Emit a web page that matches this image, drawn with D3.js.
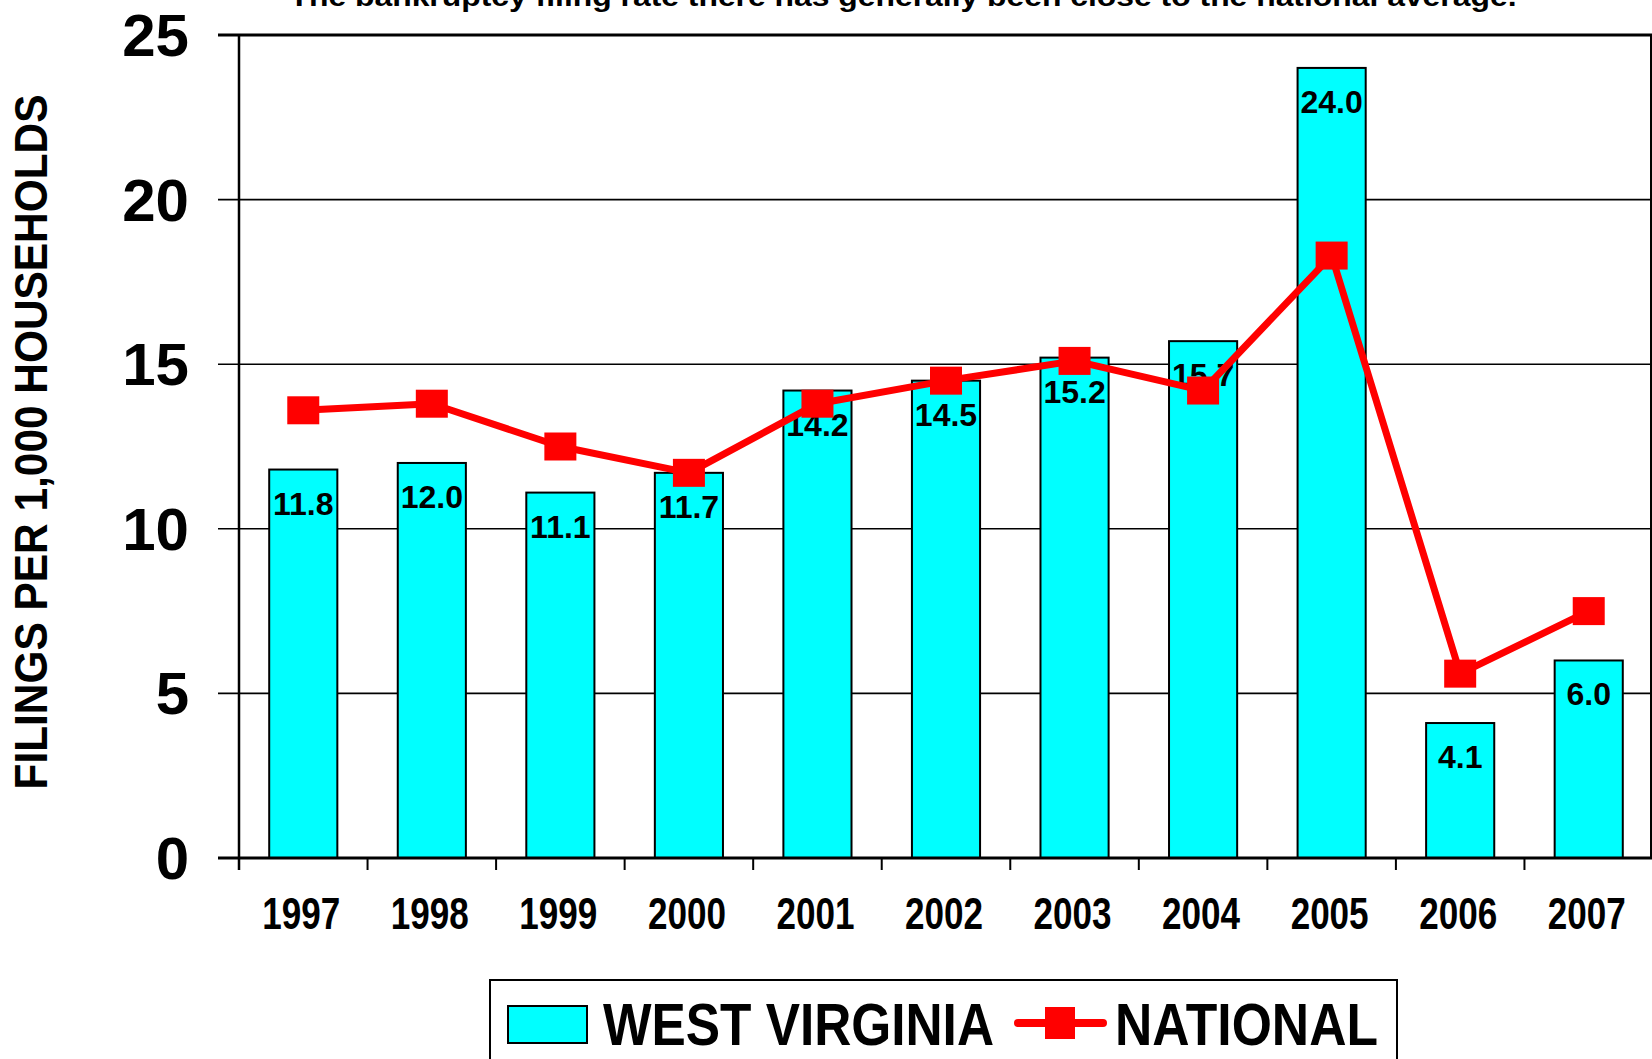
<!DOCTYPE html>
<html>
<head>
<meta charset="utf-8">
<script src="https://cdn.jsdelivr.net/npm/d3@7"></script>
<style>
  body { margin: 0; background: #fff; }
  svg { display: block; }
  text { font-family: "Liberation Sans", Arial, sans-serif; font-weight: bold; fill: #000; }
  .narrow { font-family: "Liberation Sans Narrow", "Arial Narrow", "Liberation Sans", sans-serif; }
</style>
</head>
<body>
<svg width="1652" height="1059"></svg>
<script>
var years = ["1997", "1998", "1999", "2000", "2001", "2002", "2003", "2004", "2005", "2006", "2007"];
var westVirginia = [11.8, 12.0, 11.1, 11.7, 14.2, 14.5, 15.2, 15.7, 24.0, 4.1, 6.0];
var national = [13.6, 13.8, 12.5, 11.7, 13.8, 14.5, 15.1, 14.2, 18.3, 5.6, 7.5];
var yTicks = [0, 5, 10, 15, 20, 25];
var seriesNames = ["WEST VIRGINIA", "NATIONAL"];
var titleText = "The bankruptcy filing rate there has generally been close to the national average.";
var yTitle = "FILINGS PER 1,000 HOUSEHOLDS";

var svg = d3.select("svg");

// plot area (note: "top" is taken by window.top)
var plotLeft = 239, plotRight = 1653, plotTop = 35, plotBottom = 858;

var y = d3.scaleLinear().domain([0, 25]).range([plotBottom, plotTop]);
var xCat = d3.scaleBand().domain(years).range([plotLeft, plotRight]).padding(0);
var xBar = d3
  .scaleBand()
  .domain(years)
  .range([plotLeft, plotRight])
  .paddingInner(0.47)
  .paddingOuter(0.235);

var data = years.map(function (yr, i) {
  return { year: yr, wv: westVirginia[i], nat: national[i] };
});

function mid(yr) {
  return xCat(yr) + xCat.bandwidth() / 2;
}

// title, cut off at the top edge
svg
  .append("text")
  .attr("x", 903)
  .attr("y", 6)
  .attr("text-anchor", "middle")
  .attr("textLength", 1227)
  .attr("lengthAdjust", "spacingAndGlyphs")
  .style("font-size", "28px")
  .text(titleText);

// gridlines + y ticks
svg
  .append("g")
  .selectAll("line")
  .data(yTicks)
  .enter()
  .append("line")
  .attr("x1", 218)
  .attr("x2", 1652)
  .attr("y1", function (d) { return y(d); })
  .attr("y2", function (d) { return y(d); })
  .attr("stroke", "#000")
  .attr("stroke-width", function (d) { return d === 25 ? 3 : 1.6; });

svg
  .append("g")
  .selectAll("text")
  .data(yTicks)
  .enter()
  .append("text")
  .attr("x", 189)
  .attr("y", function (d) { return y(d) + 21; })
  .attr("text-anchor", "end")
  .style("font-size", "60px")
  .text(function (d) { return d; });

// y axis title
svg
  .append("text")
  .attr("class", "narrow")
  .attr("transform", "translate(47,442) rotate(-90)")
  .attr("text-anchor", "middle")
  .attr("textLength", 695)
  .attr("lengthAdjust", "spacingAndGlyphs")
  .style("font-size", "46px")
  .text(yTitle);

// bars
svg
  .append("g")
  .selectAll("rect")
  .data(data)
  .enter()
  .append("rect")
  .attr("x", function (d) { return xBar(d.year); })
  .attr("y", function (d) { return y(d.wv); })
  .attr("width", xBar.bandwidth())
  .attr("height", function (d) { return y(0) - y(d.wv); })
  .attr("fill", "#00ffff")
  .attr("stroke", "#000")
  .attr("stroke-width", 2);

// bar labels
svg
  .append("g")
  .selectAll("text")
  .data(data)
  .enter()
  .append("text")
  .attr("x", function (d) { return mid(d.year); })
  .attr("y", function (d) { return y(d.wv) + 45; })
  .attr("text-anchor", "middle")
  .style("font-size", "32px")
  .text(function (d) { return d.wv.toFixed(1); });

// plot frame: left axis, right border, baseline
svg.append("line")
  .attr("x1", plotLeft).attr("x2", plotLeft)
  .attr("y1", y(25)).attr("y2", plotBottom + 12)
  .attr("stroke", "#000").attr("stroke-width", 2.5);
svg.append("line")
  .attr("x1", 1651).attr("x2", 1651)
  .attr("y1", y(25)).attr("y2", plotBottom)
  .attr("stroke", "#000").attr("stroke-width", 2);
svg.append("line")
  .attr("x1", 218).attr("x2", 1652)
  .attr("y1", plotBottom).attr("y2", plotBottom)
  .attr("stroke", "#000").attr("stroke-width", 3);

// x ticks at band edges
svg
  .append("g")
  .selectAll("line")
  .data(years.slice(1))
  .enter()
  .append("line")
  .attr("x1", function (d) { return xCat(d); })
  .attr("x2", function (d) { return xCat(d); })
  .attr("y1", plotBottom)
  .attr("y2", plotBottom + 12)
  .attr("stroke", "#000")
  .attr("stroke-width", 2);

// x labels
svg
  .append("g")
  .selectAll("text")
  .data(years)
  .enter()
  .append("text")
  .attr("class", "narrow")
  .attr("x", function (d) { return mid(d) - 2; })
  .attr("y", 929)
  .attr("text-anchor", "middle")
  .attr("textLength", 78)
  .attr("lengthAdjust", "spacingAndGlyphs")
  .style("font-size", "44px")
  .text(function (d) { return d; });

// national line
var line = d3
  .line()
  .x(function (d) { return mid(d.year); })
  .y(function (d) { return y(d.nat); });

svg
  .append("path")
  .datum(data)
  .attr("d", line)
  .attr("fill", "none")
  .attr("stroke", "#ff0000")
  .attr("stroke-width", 7)
  .attr("stroke-linejoin", "round");

svg
  .append("g")
  .selectAll("rect")
  .data(data)
  .enter()
  .append("rect")
  .attr("x", function (d) { return mid(d.year) - 16; })
  .attr("y", function (d) { return y(d.nat) - 14; })
  .attr("width", 32)
  .attr("height", 28)
  .attr("fill", "#ff0000");

// legend
var lg = svg.append("g");
lg.append("rect")
  .attr("x", 490).attr("y", 980)
  .attr("width", 907).attr("height", 100)
  .attr("fill", "#fff").attr("stroke", "#000").attr("stroke-width", 2);
lg.append("rect")
  .attr("x", 508).attr("y", 1006)
  .attr("width", 79).attr("height", 37)
  .attr("fill", "#00ffff").attr("stroke", "#000").attr("stroke-width", 2);
lg.append("text")
  .attr("class", "narrow")
  .attr("x", 603).attr("y", 1045)
  .attr("textLength", 391)
  .attr("lengthAdjust", "spacingAndGlyphs")
  .style("font-size", "60px")
  .text(seriesNames[0]);
lg.append("line")
  .attr("x1", 1018).attr("x2", 1103)
  .attr("y1", 1023).attr("y2", 1023)
  .attr("stroke", "#ff0000").attr("stroke-width", 8)
  .attr("stroke-linecap", "round");
lg.append("rect")
  .attr("x", 1045).attr("y", 1007)
  .attr("width", 30).attr("height", 32)
  .attr("fill", "#ff0000");
lg.append("text")
  .attr("class", "narrow")
  .attr("x", 1115).attr("y", 1045)
  .attr("textLength", 263)
  .attr("lengthAdjust", "spacingAndGlyphs")
  .style("font-size", "60px")
  .text(seriesNames[1]);
</script>
</body>
</html>
